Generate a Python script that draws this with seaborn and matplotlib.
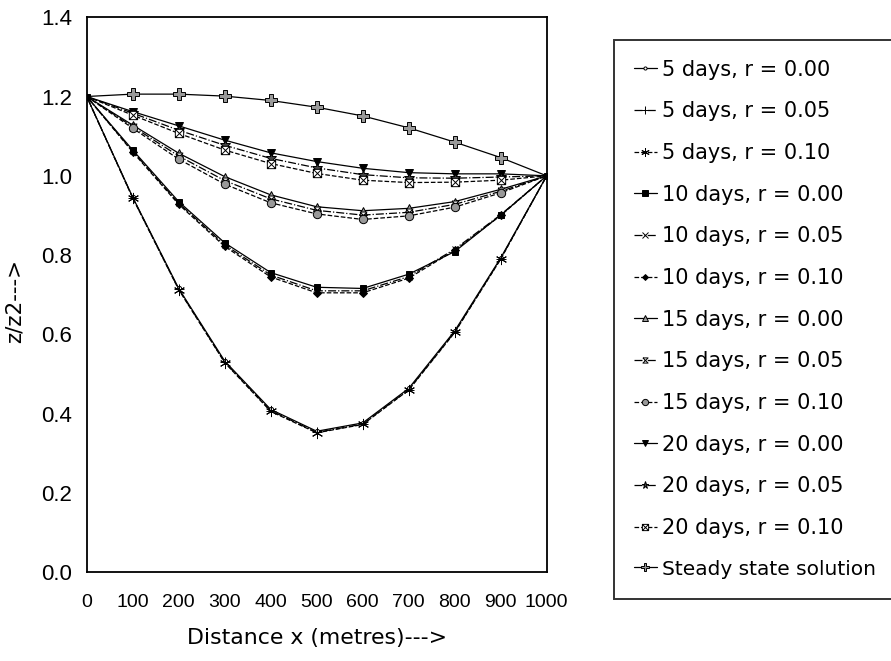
import matplotlib
matplotlib.use("Agg")
import matplotlib.pyplot as plt
import seaborn as sns
from matplotlib.path import Path

sns.set_theme(style="white")
plt.rcParams["font.family"] = ["DejaVu Sans"]
plt.rcParams["text.color"] = "black"
plt.rcParams["axes.labelcolor"] = "black"

# distance along the reach (m)
x_dist = [0, 100, 200, 300, 400, 500, 600, 700, 800, 900, 1000]
y_ticks = [0.0, 0.2, 0.4, 0.6, 0.8, 1.0, 1.2, 1.4]

# z/z2 values
d5_r000 = [1.2, 0.946, 0.716, 0.533, 0.411, 0.356, 0.377, 0.464, 0.609, 0.793, 1.0]
d5_r005 = [1.2, 0.945, 0.714, 0.530, 0.408, 0.353, 0.374, 0.461, 0.606, 0.791, 1.0]
d5_r010 = [1.2, 0.944, 0.713, 0.529, 0.406, 0.352, 0.373, 0.460, 0.605, 0.790, 1.0]
d10_r000 = [1.2, 1.065, 0.935, 0.831, 0.756, 0.719, 0.716, 0.752, 0.809, 0.901, 1.0]
d10_r005 = [1.2, 1.062, 0.931, 0.826, 0.750, 0.710, 0.710, 0.746, 0.815, 0.902, 1.0]
d10_r010 = [1.2, 1.060, 0.928, 0.822, 0.745, 0.705, 0.705, 0.742, 0.812, 0.900, 1.0]
d15_r000 = [1.2, 1.128, 1.057, 0.998, 0.952, 0.922, 0.912, 0.918, 0.935, 0.966, 1.0]
d15_r005 = [1.2, 1.124, 1.050, 0.988, 0.942, 0.913, 0.901, 0.908, 0.928, 0.961, 1.0]
d15_r010 = [1.2, 1.120, 1.042, 0.979, 0.932, 0.904, 0.890, 0.899, 0.921, 0.957, 1.0]
d20_r000 = [1.2, 1.162, 1.126, 1.090, 1.058, 1.036, 1.019, 1.008, 1.005, 1.005, 1.0]
d20_r005 = [1.2, 1.158, 1.115, 1.077, 1.044, 1.020, 1.003, 0.995, 0.994, 0.997, 1.0]
d20_r010 = [1.2, 1.153, 1.107, 1.065, 1.031, 1.006, 0.989, 0.983, 0.984, 0.989, 1.0]
steady = [1.2, 1.206, 1.206, 1.201, 1.190, 1.173, 1.151, 1.121, 1.085, 1.046, 1.0]

labels = ["5 days, r = 0.00", "5 days, r = 0.05", "5 days, r = 0.10",
          "10 days, r = 0.00", "10 days, r = 0.05", "10 days, r = 0.10",
          "15 days, r = 0.00", "15 days, r = 0.05", "15 days, r = 0.10",
          "20 days, r = 0.00", "20 days, r = 0.05", "20 days, r = 0.10",
          "Steady state solution"]
series = [d5_r000, d5_r005, d5_r010, d10_r000, d10_r005, d10_r010,
          d15_r000, d15_r005, d15_r010, d20_r000, d20_r005, d20_r010, steady]

hourglass = [(-1, 1), (1, 1), (-1, -1), (1, -1), (-1, 1)]
boxed_x = Path([(-1, -1), (1, -1), (1, 1), (-1, 1), (-1, -1), (-1, -1), (1, 1), (-1, 1), (1, -1)],
               [Path.MOVETO, Path.LINETO, Path.LINETO, Path.LINETO, Path.CLOSEPOLY,
                Path.MOVETO, Path.LINETO, Path.MOVETO, Path.LINETO])

# marker, marker size, face colour, line style
styles = [
    ("o", 3, "white", "-"),
    ("+", 7, "black", "-."),
    ((6, 2, 0), 8, "black", "--"),
    ("s", 5, "black", "-"),
    ("x", 5, "black", "-."),
    ("D", 4, "black", "--"),
    ("^", 6, "#999999", "-"),
    (hourglass, 5, "white", "-."),
    ("o", 6, "#999999", "--"),
    ("v", 6, "black", "-"),
    ("*", 7, "#444444", "-."),
    (boxed_x, 6, "white", "--"),
    ("P", 8, "#999999", "-"),
]

fig = plt.figure(figsize=(8.91, 6.61), dpi=100)
ax = fig.add_axes([0.0973, 0.134, 0.5163, 0.840])

for lab, vals, (mk, ms, fc, ls) in zip(labels, series, styles):
    every = None if lab == "10 days, r = 0.00" else slice(1, -1)
    z = 4 if lab == "10 days, r = 0.00" else 2
    sns.lineplot(x=x_dist, y=vals, ax=ax, color="black", linewidth=0.9,
                 linestyle=ls, marker=mk, markersize=ms, markerfacecolor=fc,
                 markeredgecolor="black", markeredgewidth=0.7,
                 markevery=every, label=lab, zorder=z)

ax.set_xlim(0, 1000)
ax.set_ylim(0, 1.4)
ax.set_xticks(x_dist)
ax.set_xticklabels([str(v) for v in x_dist], family="Liberation Sans", fontsize=14)
ax.set_yticks(y_ticks)
ax.set_yticklabels([f"{v:.1f}" for v in y_ticks], family="Liberation Sans", fontsize=16)
ax.tick_params(axis="y", direction="out", length=6.3, width=0.8, color="#777777",
               labelcolor="black", pad=4.3)
ax.tick_params(axis="x", direction="out", length=8.6, width=0.8, color="#555555",
               labelcolor="black", pad=7)
for sp in ax.spines.values():
    sp.set_color("black")
    sp.set_linewidth(1.3)

ax.set_xlabel("Distance x (metres)--->", fontsize=15.8)
ax.xaxis.set_label_coords(0.5, -0.100)
ax.set_ylabel("z/z2--->", fontsize=15.5)
ax.yaxis.set_label_coords(-0.134, 0.489)

leg = ax.legend(loc="upper left", bbox_to_anchor=(0.689, 0.0, 0.34, 0.9395),
                bbox_transform=fig.transFigure, mode="expand",
                frameon=True, fancybox=False, edgecolor="black", fontsize=15,
                handlelength=1.1, handletextpad=0.25, labelspacing=1.04,
                borderpad=0.95, borderaxespad=0, markerscale=0.75)
leg.get_frame().set_linewidth(1.4)
leg.get_texts()[-1].set_fontsize(14.5)

fig.savefig("out.png", dpi=100)
